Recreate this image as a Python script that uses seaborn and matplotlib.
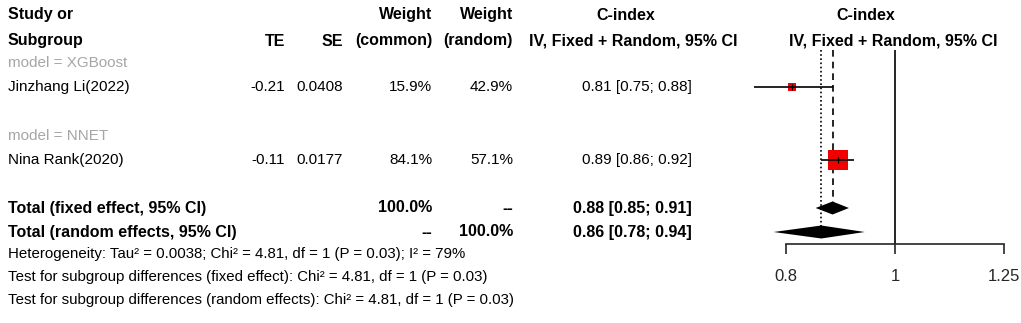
import numpy as np
import pandas as pd
import matplotlib
matplotlib.use('Agg')
import matplotlib.pyplot as plt
import seaborn as sns

# ==========================================
# DATA
# ==========================================
groups = ["XGBoost", "NNET"]
studies = ["Jinzhang Li(2022)", "Nina Rank(2020)"]
te = [-0.21, -0.11]
se = [0.0408, 0.0177]
w_common = [15.9, 84.1]
w_random = [42.9, 57.1]
est = [0.81, 0.89]
ci_lo = [0.75, 0.86]
ci_hi = [0.88, 0.92]

fixed_est, fixed_lo, fixed_hi = 0.88, 0.85, 0.91
random_est, random_lo, random_hi = 0.86, 0.78, 0.94

tau2, chi2, df_, p_het, i2 = 0.0038, 4.81, 1, 0.03, 79
ticks = [0.8, 1, 1.25]
tick_labels = ["0.8", "1", "1.25"]

# ==========================================
# LAYOUT (pixels)
# ==========================================
W, H = 1021, 323
ROW_H = 24
Y_HDR1, Y_HDR2 = 15, 41
Y_STUDY0 = 63            # first subgroup label
Y_FIX, Y_RAN = 208, 232
Y_FOOT = [254, 277, 300]

X_STUDY, X_TE, X_SE, X_WC, X_WR, X_CI = 8, 285, 343, 432, 513, 692
GREY = "#a6a6a6"
RED = "#f00000"

sns.set_style("white")
plt.rcParams['font.family'] = ['Liberation Sans', 'DejaVu Sans']
FS = 11
FS_B = 11.5
FS_FOOT = 10.8

fig = plt.figure(figsize=(W / 100, H / 100), dpi=100)

# text layer in pixel coordinates
tab = fig.add_axes([0, 0, 1, 1])
tab.set_xlim(0, W)
tab.set_ylim(H, 0)
tab.axis('off')

def txt(x, y, s, ha='left', bold=False, color='black', size=None):
    if size is None:
        size = FS_B if bold else FS
    tab.text(x, y, s, ha=ha, va='center', fontsize=size,
             fontweight='bold' if bold else 'normal', color=color)

# header
txt(X_STUDY, Y_HDR1, "Study or", bold=True)
txt(X_STUDY, Y_HDR2, "Subgroup", bold=True)
txt(X_TE, Y_HDR2, "TE", ha='right', bold=True)
txt(X_SE, Y_HDR2, "SE", ha='right', bold=True)
txt(X_WC, Y_HDR1, "Weight", ha='right', bold=True)
txt(X_WC, Y_HDR2, "(common)", ha='right', bold=True)
txt(X_WR, Y_HDR1, "Weight", ha='right', bold=True)
txt(X_WR, Y_HDR2, "(random)", ha='right', bold=True)
txt(626, Y_HDR1, "C-index", ha='center', bold=True)
txt(633, Y_HDR2, "IV, Fixed + Random, 95% CI", ha='center', bold=True)
txt(866, Y_HDR1, "C-index", ha='center', bold=True)
txt(893, Y_HDR2, "IV, Fixed + Random, 95% CI", ha='center', bold=True)

# study rows
study_y = []
for i, g in enumerate(groups):
    yg = Y_STUDY0 + i * 3 * ROW_H + (1 if i else 0)
    ys = yg + ROW_H
    study_y.append(ys)
    txt(X_STUDY, yg, f"model = {g}", color=GREY)
    txt(X_STUDY, ys, studies[i])
    txt(X_TE, ys, f"{te[i]:.2f}", ha='right')
    txt(X_SE, ys, f"{se[i]:.4f}", ha='right')
    txt(X_WC, ys, f"{w_common[i]:.1f}%", ha='right')
    txt(X_WR, ys, f"{w_random[i]:.1f}%", ha='right')
    txt(X_CI, ys, f"{est[i]:.2f} [{ci_lo[i]:.2f}; {ci_hi[i]:.2f}]", ha='right')

# totals
txt(X_STUDY, Y_FIX, "Total (fixed effect, 95% CI)", bold=True)
txt(X_WC, Y_FIX, "100.0%", ha='right', bold=True)
txt(X_WR, Y_FIX, "--", ha='right', bold=True)
txt(X_CI, Y_FIX, f"{fixed_est:.2f} [{fixed_lo:.2f}; {fixed_hi:.2f}]", ha='right', bold=True)
txt(X_STUDY, Y_RAN, "Total (random effects, 95% CI)", bold=True)
txt(X_WC, Y_RAN, "--", ha='right', bold=True)
txt(X_WR, Y_RAN, "100.0%", ha='right', bold=True)
txt(X_CI, Y_RAN, f"{random_est:.2f} [{random_lo:.2f}; {random_hi:.2f}]", ha='right', bold=True)

# footnotes
txt(X_STUDY, Y_FOOT[0],
    f"Heterogeneity: Tau\u00b2 = {tau2}; Chi\u00b2 = {chi2}, df = {df_} (P = {p_het}); I\u00b2 = {i2}%",
    size=FS_FOOT)
txt(X_STUDY, Y_FOOT[1],
    f"Test for subgroup differences (fixed effect): Chi\u00b2 = {chi2}, df = {df_} (P = {p_het})",
    size=FS_FOOT)
txt(X_STUDY, Y_FOOT[2],
    f"Test for subgroup differences (random effects): Chi\u00b2 = {chi2}, df = {df_} (P = {p_het})",
    size=FS_FOOT)

# ==========================================
# FOREST PANEL
# ==========================================
PX_L, PX_R, PY_T, PY_B = 740, 1021, 30, 244
ax = fig.add_axes([PX_L / W, 1 - PY_B / H, (PX_R - PX_L) / W, (PY_B - PY_T) / H])
ax.patch.set_alpha(0)
ax.set_xscale('log')
# 1 at px 895, 0.8/1.25 at +-109 px
k = 109 / np.log(1.25)
ax.set_xlim(np.exp((PX_L - 895) / k), np.exp((PX_R - 895) / k))
ax.set_ylim(PY_B, PY_T)

LINE_TOP = 50
# reference line at 1
ax.vlines(1, LINE_TOP, PY_B, color='black', lw=1.2)
# fixed (dashed) and random (dotted) lines
ax.vlines(fixed_est, LINE_TOP, Y_FIX - 6, color='black', lw=1.2, linestyles=(0, (4, 3)))
ax.vlines(random_est, LINE_TOP, Y_RAN - 6, color='black', lw=1.2, linestyles=(0, (1, 1.5)))

# CIs
ax.hlines(study_y, ci_lo, ci_hi, color='black', lw=1.2, zorder=4)
sq = pd.DataFrame({"est": est, "y": study_y, "w": w_common})
sizes = {w: (1.57 * np.sqrt(w)) ** 2 for w in w_common}
sns.scatterplot(data=sq, x="est", y="y", size="w", sizes=sizes, marker='s',
                color=RED, linewidth=0, legend=False, ax=ax, zorder=3)
ax.scatter(est, study_y, marker='|', s=20, color='black', lw=0.8, zorder=5)

# diamonds
def diamond(lo, mid, hi, y, h=6.5):
    ax.fill([lo, mid, hi, mid], [y, y - h, y, y + h], color='black', lw=0, zorder=4)

diamond(fixed_lo, fixed_est, fixed_hi, Y_FIX)
diamond(random_lo, random_est, random_hi, Y_RAN)

# axis
for s in ['top', 'right', 'left']:
    ax.spines[s].set_visible(False)
ax.spines['bottom'].set_bounds(ticks[0], ticks[-1])
ax.spines['bottom'].set_linewidth(1.2)
ax.set_xticks(ticks)
ax.set_xticklabels(tick_labels, fontsize=12)
ax.xaxis.set_minor_locator(matplotlib.ticker.NullLocator())
ax.tick_params(axis='x', direction='out', length=7.5, width=1.2, pad=10.5, bottom=True)
ax.set_yticks([])
ax.set_xlabel("")
ax.set_ylabel("")

fig.savefig("out.png", dpi=100)
